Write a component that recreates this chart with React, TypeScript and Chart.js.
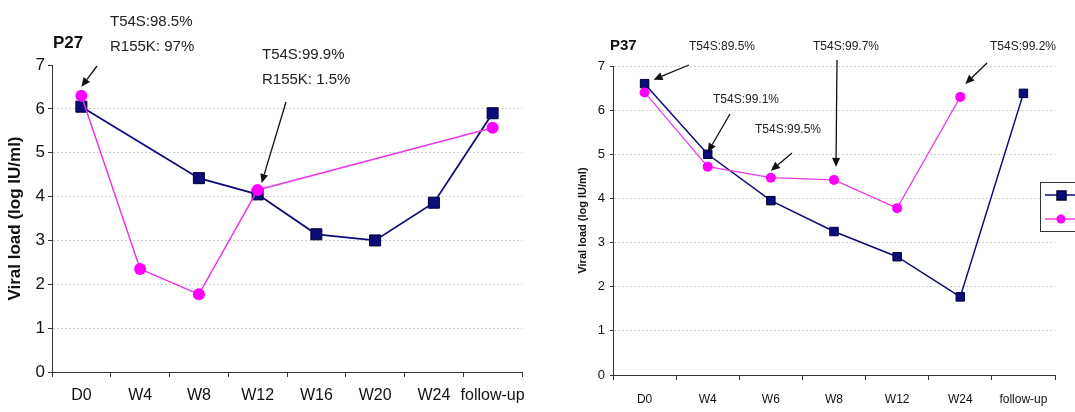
import React, { useEffect, useRef } from "react";
import { Chart, registerables } from "chart.js";

Chart.register(...registerables);

const FONT = "'Liberation Sans', Arial, Helvetica, sans-serif";

// ---------- data ----------
const p27Categories = ["D0", "W4", "W8", "W12", "W16", "W20", "W24", "follow-up"];
const p27Series1: (number | null)[] = [6.05, null, 4.42, 4.05, 3.14, 3.0, 3.86, 5.9];
const p27Series2: (number | null)[] = [6.3, 2.35, 1.77, 4.15, null, null, null, 5.57];

const p37Categories = ["D0", "W4", "W6", "W8", "W12", "W24", "follow-up"];
const p37Series1: (number | null)[] = [6.6, 5.0, 3.95, 3.25, 2.68, 1.77, 6.38];
const p37Series2: (number | null)[] = [6.4, 4.72, 4.47, 4.42, 3.78, 6.3, null];

const yTickValues = [0, 1, 2, 3, 4, 5, 6, 7];
const seriesNames = ["Viral load", "T54S"];

const NAVY = "#0b0b7a";
const NAVY_EDGE = "#00003a";
const PINK_LINE = "#e838e8";
const PINK = "#ff00ff";

type Note = {
  lines: string[];
  tx: number;
  ty: number;
  lineGap: number;
  tail: [number, number];
  ds: number;
  idx: number;
  dx: number;
  dy: number;
};

const p27Notes: Note[] = [
  { lines: ["T54S:98.5%", "R155K: 97%"], tx: 110, ty: 22, lineGap: 25, tail: [97, 66], ds: 1, idx: 0, dx: 0, dy: -9 },
  { lines: ["T54S:99.9%", "R155K: 1.5%"], tx: 262, ty: 55, lineGap: 25, tail: [286, 102], ds: 1, idx: 3, dx: 4, dy: -7 },
];

const p37Notes: Note[] = [
  { lines: ["T54S:89.5%"], tx: 149, ty: 47, lineGap: 0, tail: [149, 65], ds: 0, idx: 0, dx: 9, dy: -4 },
  { lines: ["T54S:99.1%"], tx: 173, ty: 100, lineGap: 0, tail: [190, 114], ds: 0, idx: 1, dx: 0, dy: -2 },
  { lines: ["T54S:99.5%"], tx: 215, ty: 130, lineGap: 0, tail: [252, 153], ds: 1, idx: 2, dx: 0, dy: -7 },
  { lines: ["T54S:99.7%"], tx: 273, ty: 47, lineGap: 0, tail: [297, 60], ds: 1, idx: 3, dx: 2, dy: -13 },
  { lines: ["T54S:99.2%"], tx: 450, ty: 47, lineGap: 0, tail: [447, 63], ds: 1, idx: 5, dx: 5, dy: -13 },
];

type PanelCfg = {
  width: number;
  title: string;
  titleX: number;
  titleY: number;
  titleSize: number;
  noteSize: number;
  categories: string[];
  s1: (number | null)[];
  s2: (number | null)[];
  notes: Note[];
  pad: { top: number; right: number };
  yWidth: number;
  xHeight: number;
  tickSize: number;
  xTickSize: number;
  yTickPad: number;
  xTickPad: number;
  yTickLen: number;
  axisTitleSize: number;
  axisTitlePad: number;
  squareR: number;
  circleR: number;
  lineW: number;
  gridTop: boolean;
  legend: boolean;
};

function drawArrow(ctx: CanvasRenderingContext2D, x1: number, y1: number, x2: number, y2: number) {
  const ang = Math.atan2(y2 - y1, x2 - x1);
  const len = 9;
  const hw = 4;
  const bx = x2 - Math.cos(ang) * len;
  const by = y2 - Math.sin(ang) * len;
  ctx.save();
  ctx.strokeStyle = "#111";
  ctx.fillStyle = "#111";
  ctx.lineWidth = 1.3;
  ctx.beginPath();
  ctx.moveTo(x1, y1);
  ctx.lineTo(bx, by);
  ctx.stroke();
  ctx.beginPath();
  ctx.moveTo(x2, y2);
  ctx.lineTo(bx + Math.sin(ang) * hw, by - Math.cos(ang) * hw);
  ctx.lineTo(bx - Math.sin(ang) * hw, by + Math.cos(ang) * hw);
  ctx.closePath();
  ctx.fill();
  ctx.restore();
}

function Panel({ cfg }: { cfg: PanelCfg }) {
  const ref = useRef<HTMLCanvasElement | null>(null);

  useEffect(() => {
    if (!ref.current) return;
    const notesPlugin = {
      id: "notes",
      afterDraw(chart: any) {
        const ctx: CanvasRenderingContext2D = chart.ctx;
        ctx.save();
        ctx.fillStyle = "#111";
        ctx.textBaseline = "middle";
        ctx.textAlign = "left";
        ctx.font = `bold ${cfg.titleSize}px ${FONT}`;
        ctx.fillText(cfg.title, cfg.titleX, cfg.titleY);
        ctx.font = `${cfg.noteSize}px ${FONT}`;
        ctx.fillStyle = "#222";
        for (const n of cfg.notes) {
          n.lines.forEach((l, i) => ctx.fillText(l, n.tx, n.ty + i * n.lineGap));
          const el = chart.getDatasetMeta(n.ds).data[n.idx];
          drawArrow(ctx, n.tail[0], n.tail[1], el.x + n.dx, el.y + n.dy);
        }
        if (cfg.legend) {
          const bx = chart.chartArea.right - 15;
          const by = 182;
          ctx.fillStyle = "#fff";
          ctx.fillRect(bx, by, 80, 49);
          ctx.strokeStyle = "#333";
          ctx.lineWidth = 1;
          ctx.strokeRect(bx + 0.5, by + 0.5, 80, 49);
          ctx.strokeStyle = NAVY;
          ctx.lineWidth = 1.5;
          ctx.beginPath();
          ctx.moveTo(bx + 5, by + 13);
          ctx.lineTo(bx + 80, by + 13);
          ctx.stroke();
          ctx.fillStyle = NAVY;
          ctx.fillRect(bx + 17, by + 9, 9, 9);
          ctx.strokeStyle = NAVY_EDGE;
          ctx.strokeRect(bx + 17, by + 9, 9, 9);
          ctx.fillStyle = "#111";
          ctx.font = `12px ${FONT}`;
          ctx.fillText(seriesNames[0], bx + 44, by + 13);
          ctx.strokeStyle = PINK_LINE;
          ctx.beginPath();
          ctx.moveTo(bx + 5, by + 37);
          ctx.lineTo(bx + 80, by + 37);
          ctx.stroke();
          ctx.fillStyle = PINK;
          ctx.beginPath();
          ctx.arc(bx + 21, by + 37, 4.5, 0, Math.PI * 2);
          ctx.fill();
          ctx.fillStyle = "#111";
          ctx.fillText(seriesNames[1], bx + 44, by + 37);
        }
        ctx.restore();
      },
    };

    const chart = new Chart(ref.current, {
      type: "line",
      data: {
        labels: cfg.categories,
        datasets: [
          {
            label: seriesNames[0],
            data: cfg.s1,
            order: 1,
            borderColor: NAVY,
            backgroundColor: NAVY,
            borderWidth: cfg.lineW,
            pointStyle: "rect",
            pointRadius: cfg.squareR,
            pointBorderColor: NAVY_EDGE,
            pointBackgroundColor: NAVY,
            pointBorderWidth: 1,
            spanGaps: true,
            tension: 0,
          },
          {
            label: seriesNames[1],
            data: cfg.s2,
            order: 0,
            borderColor: PINK_LINE,
            backgroundColor: PINK,
            borderWidth: cfg.lineW - 0.3,
            pointStyle: "circle",
            pointRadius: cfg.circleR,
            pointBorderColor: PINK,
            pointBackgroundColor: PINK,
            pointBorderWidth: 0,
            spanGaps: true,
            tension: 0,
          },
        ],
      },
      options: {
        responsive: false,
        animation: false,
        layout: { padding: { top: cfg.pad.top, right: cfg.pad.right, bottom: 0, left: 0 } },
        plugins: { legend: { display: false }, tooltip: { enabled: false }, title: { display: false } },
        scales: {
          x: {
            type: "category",
            offset: true,
            grid: {
              display: true,
              drawOnChartArea: false,
              drawTicks: true,
              tickLength: 5,
              tickColor: "#333",
              offset: true,
            },
            border: { display: true, color: "#333", width: 1 },
            ticks: {
              font: { family: FONT, size: cfg.xTickSize },
              color: "#111",
              padding: cfg.xTickPad,
              maxRotation: 0,
              autoSkip: false,
            },
            afterFit: (s: any) => {
              s.height = cfg.xHeight;
            },
          },
          y: {
            min: 0,
            max: 7,
            afterBuildTicks: (s: any) => {
              s.ticks = yTickValues.map((v) => ({ value: v }));
            },
            ticks: {
              font: { family: FONT, size: cfg.tickSize },
              color: "#111",
              padding: cfg.yTickPad,
            },
            grid: {
              color: (c: any) => {
                const v = c.tick ? c.tick.value : 0;
                if (v <= 0) return "rgba(0,0,0,0)";
                if (v >= 7 && !cfg.gridTop) return "rgba(0,0,0,0)";
                return "#cfcfcf";
              },
              tickColor: "#333",
              tickLength: cfg.yTickLen,
              lineWidth: 1,
            },
            border: { display: true, color: "#333", width: 1, dash: [2, 2] },
            title: {
              display: true,
              text: "Viral load (log IU/ml)",
              font: { family: FONT, size: cfg.axisTitleSize, weight: "bold" },
              color: "#111",
              padding: { top: cfg.axisTitlePad, bottom: 0 },
            },
            afterFit: (s: any) => {
              s.width = cfg.yWidth;
            },
          },
        },
      } as any,
      plugins: [notesPlugin],
    });
    return () => chart.destroy();
  }, [cfg]);

  return <canvas ref={ref} width={cfg.width} height={412} style={{ display: "block" }} />;
}

const leftCfg: PanelCfg = {
  width: 540,
  title: "P27",
  titleX: 53,
  titleY: 43,
  titleSize: 17,
  noteSize: 15,
  categories: p27Categories,
  s1: p27Series1,
  s2: p27Series2,
  notes: p27Notes,
  pad: { top: 65, right: 18 },
  yWidth: 52,
  xHeight: 40,
  tickSize: 17,
  xTickSize: 16,
  yTickPad: 3,
  xTickPad: 9,
  yTickLen: 4,
  axisTitleSize: 17,
  axisTitlePad: 5,
  squareR: 7.8,
  circleR: 6,
  lineW: 1.8,
  gridTop: false,
  legend: false,
};

const rightCfg: PanelCfg = {
  width: 535,
  title: "P37",
  titleX: 70,
  titleY: 46,
  titleSize: 15,
  noteSize: 12,
  categories: p37Categories,
  s1: p37Series1,
  s2: p37Series2,
  notes: p37Notes,
  pad: { top: 66, right: 20 },
  yWidth: 73,
  xHeight: 37,
  tickSize: 13,
  xTickSize: 12,
  yTickPad: 5,
  xTickPad: 12,
  yTickLen: 3,
  axisTitleSize: 11,
  axisTitlePad: 36,
  squareR: 6,
  circleR: 5,
  lineW: 1.5,
  gridTop: true,
  legend: true,
};

export default function App() {
  useEffect(() => {
    document.body.style.margin = "0";
    document.body.style.overflow = "hidden";
    document.body.style.background = "#fff";
  }, []);
  return (
    <div style={{ display: "flex", width: 1075, height: 412, overflow: "hidden", background: "#fff" }}>
      <Panel cfg={leftCfg} />
      <Panel cfg={rightCfg} />
    </div>
  );
}
